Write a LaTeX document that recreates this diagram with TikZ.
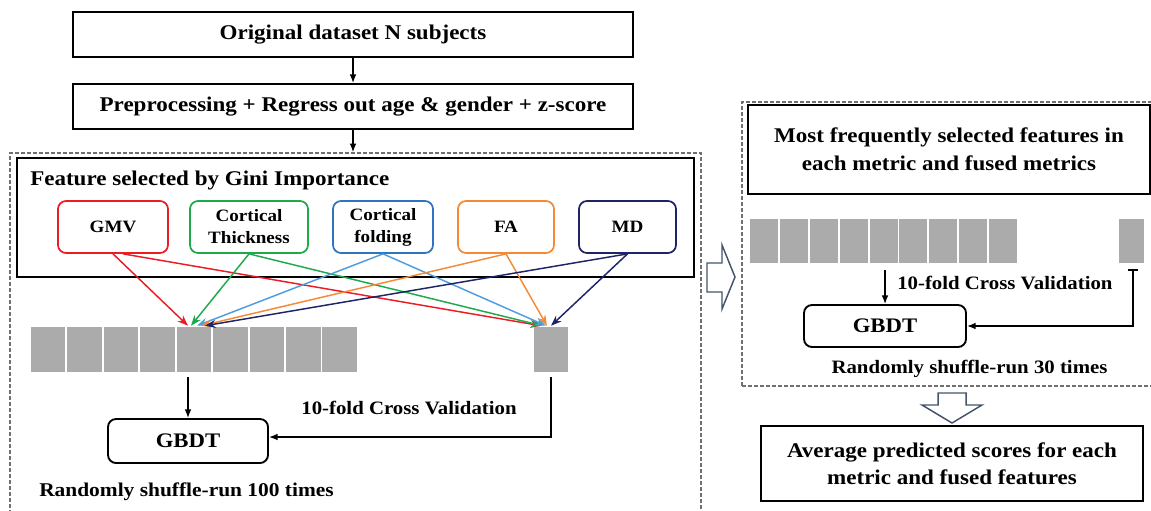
\documentclass[tikz,border=0pt]{standalone}
\usepackage{fontspec}
\setmainfont{Liberation Serif}[FakeStretch=1.1]
\usetikzlibrary{calc,arrows.meta}
\def\upx{0.75pt}
\definecolor{gmvred}{HTML}{EC1C24}
\definecolor{ctgreen}{HTML}{1DAA4B}
\definecolor{cfblue}{HTML}{2F74C0}
\definecolor{cfarrow}{HTML}{4D9DE0}
\definecolor{faorange}{HTML}{F58A36}
\definecolor{mdnavy}{HTML}{1E2466}
\definecolor{cellgray}{HTML}{ABABAB}
\definecolor{framegray}{HTML}{707070}
\definecolor{slate}{HTML}{44546A}
\tikzset{
  flowbox/.style={draw=black, line width=1.4pt, minimum height=45*\upx, inner sep=0pt,
    font=\fontsize{15.7}{18}\selectfont\bfseries},
  thickbox/.style={draw=black, line width=2.2pt, inner sep=0pt, align=center,
    font=\fontsize{15.7}{20}\selectfont\bfseries},
  metricbox/.style={draw=#1, line width=1.3pt, rounded corners=6pt, minimum height=52*\upx,
    align=center, inner sep=0pt, font=\fontsize{13}{16.5}\selectfont\bfseries},
  gbdtbox/.style={draw=black, line width=1.4pt, rounded corners=6pt, inner sep=0pt,
    font=\fontsize{15.5}{18}\selectfont\bfseries},
  cell/.style={fill=cellgray, inner sep=0pt},
  frame/.style={draw=framegray, line width=1.1pt, dash pattern=on 3pt off 1.5pt, inner sep=0pt},
  plain/.style={inner sep=0pt, font=\fontsize{14.6}{17}\selectfont\bfseries},
  blockarrow/.style={draw=slate, line width=1.1pt, fill=white, line join=miter},
  featarrow/.style={draw=#1, line width=1.1pt, -{Stealth[length=8pt,width=6pt]}},
  flowarrow/.style={line width=1pt, -{Latex[length=6.5pt,width=5pt]}}
}
\begin{document}
\begin{tikzpicture}[x=\upx, y=-\upx]
\useasboundingbox (0,0) rectangle (1151,510);

\node[frame, minimum width=691*\upx, minimum height=367*\upx] (leftframe) at (355.5,336.5) {};
\node[frame, minimum width=420*\upx, minimum height=284*\upx] (rightframe) at (952,244) {};

\node[flowbox, minimum width=560*\upx] (orig) at (353,34.5) {Original dataset N subjects};
\node[flowbox, minimum width=560*\upx] (prep) at (353,106.5) {Preprocessing + Regress out age \& gender + z-score};
\draw[flowarrow] (orig) -- (prep);
\draw[flowarrow] (prep.south) -- (prep.south |- leftframe.north);

\node[thickbox, minimum width=677*\upx, minimum height=119*\upx] (featbox) at (355.5,217.5) {};
\node[plain, font=\fontsize{15.7}{18}\selectfont\bfseries, anchor=west] (feattitle) at (30,180) {Feature selected by Gini Importance};

\node[metricbox=gmvred, minimum width=110*\upx] (gmv) at (113,227) {GMV};
\node[metricbox=ctgreen, minimum width=118*\upx] (ct) at (249,227) {Cortical\\Thickness};
\node[metricbox=cfblue, minimum width=100*\upx] (cf) at (383,227) {Cortical\\folding};
\node[metricbox=faorange, minimum width=96*\upx] (fa) at (506,227) {FA};
\node[metricbox=mdnavy, minimum width=97*\upx] (md) at (627.5,227) {MD};

\foreach \i in {1,...,9}
  \node[cell, minimum width=34.5*\upx, minimum height=45*\upx] (lcell\i) at ({30+36.44*(\i-0.5)},349.5) {};
\node[cell, minimum width=34*\upx, minimum height=45*\upx] (lrcell) at (551,349.5) {};

\foreach \src/\col/\sl/\dl/\sr/\dr in {gmv/gmvred/0/-6/10/-10, ct/ctgreen/0/-3/0/-9,
    cf/cfarrow/0/3/0/-5, fa/faorange/0/7/0/-4, md/mdnavy/0/11/0/0} {
  \draw[featarrow=\col] ($(\src.south)+(\sl,0)$) -- ($(lcell5.north)+(\dl,-1)$);
  \draw[featarrow=\col] ($(\src.south)+(\sr,0)$) -- ($(lrcell.north)+(\dr,-1)$);
}

\node[gbdtbox, minimum width=160*\upx, minimum height=44*\upx] (gbdtl) at (188,441) {GBDT};
\draw[flowarrow] ($(gbdtl.north |- lcell5.south)+(0,5)$) -- (gbdtl.north);
\draw[flowarrow] ($(lrcell.south)+(0,5)$) |- ($(gbdtl.east)+(0,-4)$);
\node[plain, font=\fontsize{14.2}{16}\selectfont\bfseries] (cvl) at (409,408) {10-fold Cross Validation};
\node[plain, anchor=west] (runl) at (39,492) {Randomly shuffle-run 100 times};

\draw[blockarrow] (707,263) -- (722,263) -- (722,245) -- (735,277) -- (722,309) -- (722,292) -- (707,292) -- cycle;

\node[thickbox, font=\fontsize{15.7}{21}\selectfont\bfseries, minimum width=402*\upx, minimum height=89*\upx] (mostbox) at (949,149.5) {Most frequently selected features in\\each metric and fused metrics};

\foreach \i in {1,...,9}
  \node[cell, minimum width=28*\upx, minimum height=44*\upx] (rcell\i) at ({749+29.9*(\i-0.5)},241) {};
\node[cell, minimum width=25*\upx, minimum height=44*\upx] (rrcell) at (1131.5,241) {};

\node[gbdtbox, minimum width=162*\upx, minimum height=42*\upx] (gbdtr) at (885,326) {GBDT};
\draw[flowarrow] ($(gbdtr.north |- rcell5.south)+(0,7)$) -- (gbdtr.north);
\draw[line width=1pt, {Bar[width=7pt]}-{Latex[length=6.5pt,width=5pt]}] ($(rrcell.south)+(1.5,6)$) |- (gbdtr.east);
\node[plain, font=\fontsize{14.2}{16}\selectfont\bfseries, anchor=west] (cvr) at (897,283) {10-fold Cross Validation};
\node[plain, font=\fontsize{14.2}{17}\selectfont\bfseries] (runr) at (969.5,369) {Randomly shuffle-run 30 times};

\draw[blockarrow] (938,393) -- (966,393) -- (966,405) -- (982,405) -- (952,423) -- (922,405) -- (938,405) -- cycle;

\node[thickbox, minimum width=382*\upx, minimum height=75*\upx] (avgbox) at (952,463.5) {Average predicted scores for each\\metric and fused features};
\end{tikzpicture}
\end{document}
